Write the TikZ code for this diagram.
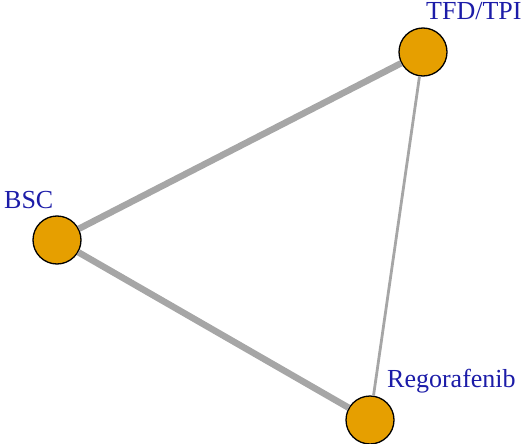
\documentclass[tikz,border=0pt]{standalone}
\usepackage{fontspec}
\setmainfont{Liberation Serif}
\definecolor{nodeorange}{HTML}{E69F00}
\definecolor{edgegray}{HTML}{A6A6A6}
\definecolor{labelblue}{HTML}{1C1CA8}
\begin{document}
\begin{tikzpicture}[x=1pt,y=-1pt,
  trt/.style={circle,draw=black,line width=1.3pt,fill=nodeorange,minimum size=48pt,inner sep=0pt},
  lab/.style={anchor=base west,text=labelblue,font=\fontsize{26}{26}\selectfont,inner sep=0pt},
  edge/.style={draw=edgegray}]
\useasboundingbox (0,0) rectangle (522,444);
\node[trt] (tfd) at (423,52) {};
\node[trt] (bsc) at (57,240) {};
\node[trt] (reg) at (370,420) {};
\node[lab] (ltfd) at (426,20) {TFD/TPI};
\node[lab] (lbsc) at (4,208) {BSC};
\node[lab] (lreg) at (387,387) {Regorafenib};
\path[edge,line width=6.5pt] (tfd) -- (bsc);
\path[edge,line width=6.5pt] (bsc) -- (reg);
\path[edge,line width=2.8pt] (tfd) -- (reg);
\end{tikzpicture}
\end{document}
